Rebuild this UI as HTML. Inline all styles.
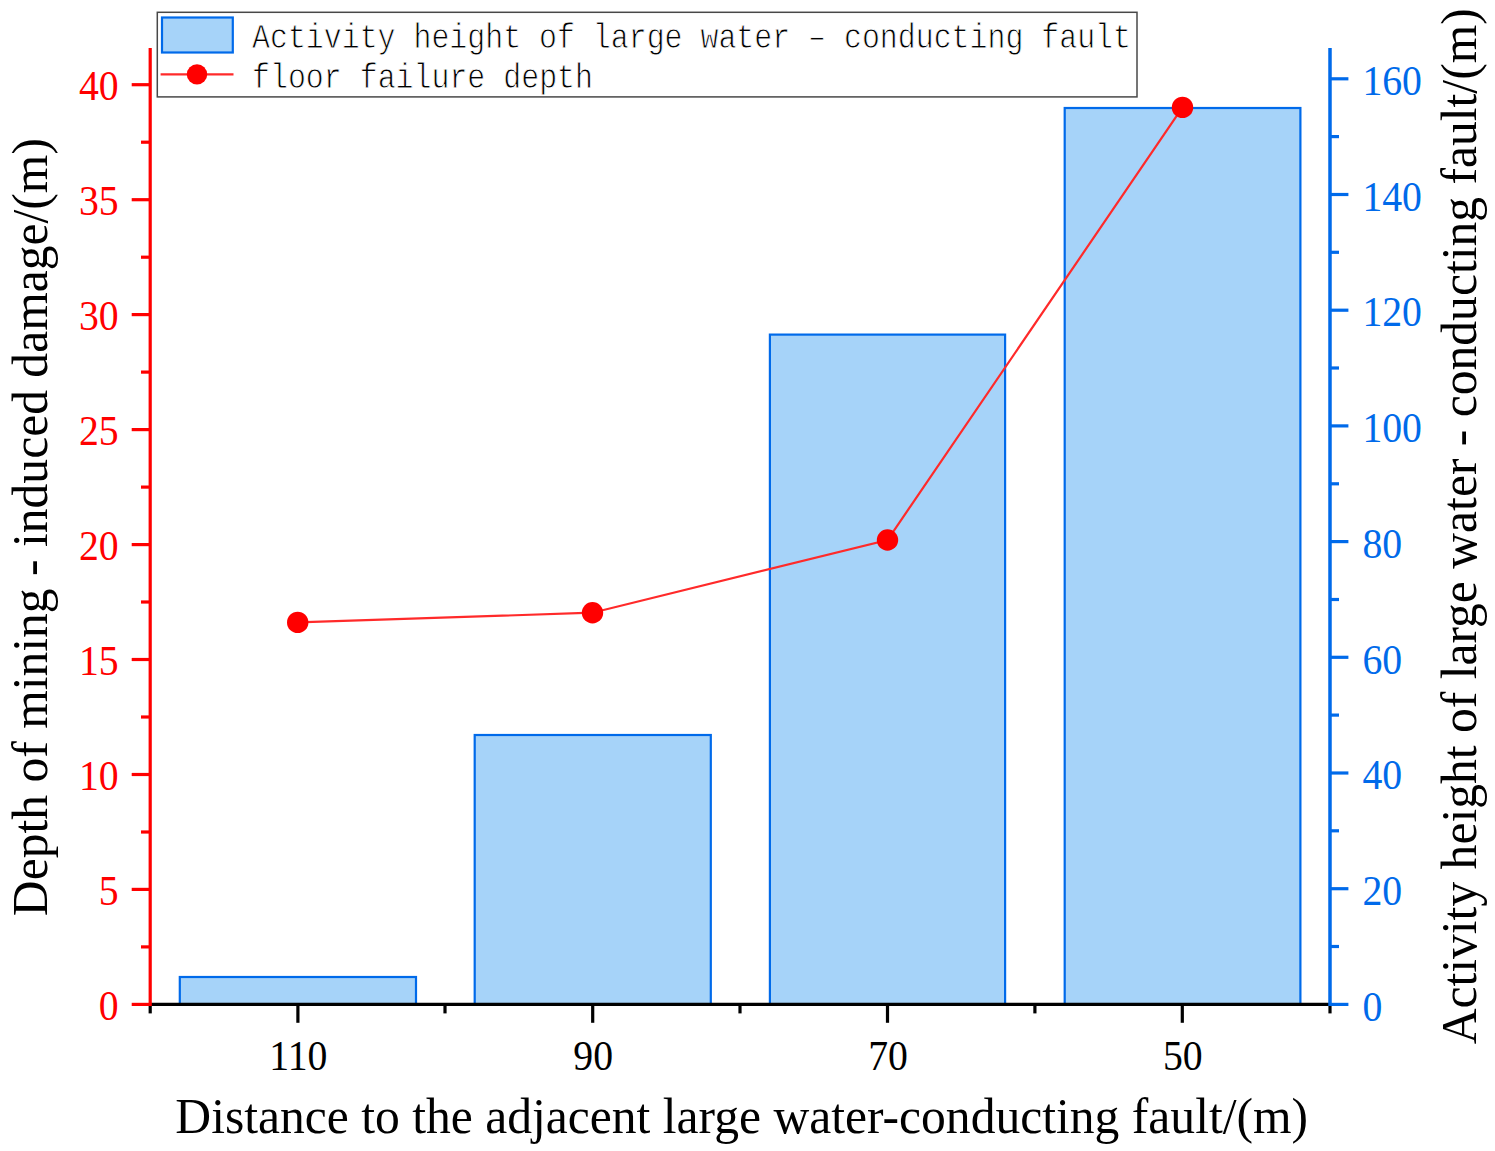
<!DOCTYPE html><html><head><meta charset="utf-8"><style>html,body{margin:0;padding:0;background:#fff;}svg{display:block;}text{font-family:"Liberation Serif",serif;}</style></head><body>
<svg width="1495" height="1151" viewBox="0 0 1495 1151">
<rect width="1495" height="1151" fill="#fff"/>
<rect x="179.8" y="977.0" width="236.2" height="27.4" fill="#a6d3f9" stroke="#006aea" stroke-width="2.2"/>
<rect x="474.7" y="735.0" width="236.1" height="269.4" fill="#a6d3f9" stroke="#006aea" stroke-width="2.2"/>
<rect x="769.9" y="334.6" width="235.2" height="669.8" fill="#a6d3f9" stroke="#006aea" stroke-width="2.2"/>
<rect x="1064.7" y="108.0" width="235.7" height="896.4" fill="#a6d3f9" stroke="#006aea" stroke-width="2.2"/>
<line x1="150.2" y1="1004.4" x2="1330.0" y2="1004.4" stroke="#000" stroke-width="3.2"/>
<line x1="297.9" y1="1004.4" x2="297.9" y2="1022.8" stroke="#000" stroke-width="3.2"/>
<line x1="592.7" y1="1004.4" x2="592.7" y2="1022.8" stroke="#000" stroke-width="3.2"/>
<line x1="887.5" y1="1004.4" x2="887.5" y2="1022.8" stroke="#000" stroke-width="3.2"/>
<line x1="1182.3" y1="1004.4" x2="1182.3" y2="1022.8" stroke="#000" stroke-width="3.2"/>
<line x1="150.2" y1="1004.4" x2="150.2" y2="1013.4" stroke="#000" stroke-width="3.2"/>
<line x1="445.0" y1="1004.4" x2="445.0" y2="1013.4" stroke="#000" stroke-width="3.2"/>
<line x1="740.0" y1="1004.4" x2="740.0" y2="1013.4" stroke="#000" stroke-width="3.2"/>
<line x1="1034.9" y1="1004.4" x2="1034.9" y2="1013.4" stroke="#000" stroke-width="3.2"/>
<line x1="1330.0" y1="1004.4" x2="1330.0" y2="1013.4" stroke="#000" stroke-width="3.2"/>
<text transform="translate(298.4,1069.8) scale(0.935,1)" font-size="42.5" text-anchor="middle" fill="#000">110</text>
<text transform="translate(593.2,1069.8) scale(0.935,1)" font-size="42.5" text-anchor="middle" fill="#000">90</text>
<text transform="translate(888.0,1069.8) scale(0.935,1)" font-size="42.5" text-anchor="middle" fill="#000">70</text>
<text transform="translate(1182.8,1069.8) scale(0.935,1)" font-size="42.5" text-anchor="middle" fill="#000">50</text>
<line x1="150.2" y1="48.0" x2="150.2" y2="1006.0" stroke="#ff0000" stroke-width="3.2"/>
<line x1="131.7" y1="1004.4" x2="150.2" y2="1004.4" stroke="#ff0000" stroke-width="3.2"/>
<text transform="translate(118.6,1019.8) scale(0.935,1)" font-size="42.5" text-anchor="end" fill="#ff0000">0</text>
<line x1="131.7" y1="889.4" x2="150.2" y2="889.4" stroke="#ff0000" stroke-width="3.2"/>
<text transform="translate(118.6,904.8) scale(0.935,1)" font-size="42.5" text-anchor="end" fill="#ff0000">5</text>
<line x1="131.7" y1="774.5" x2="150.2" y2="774.5" stroke="#ff0000" stroke-width="3.2"/>
<text transform="translate(118.6,789.9) scale(0.935,1)" font-size="42.5" text-anchor="end" fill="#ff0000">10</text>
<line x1="131.7" y1="659.5" x2="150.2" y2="659.5" stroke="#ff0000" stroke-width="3.2"/>
<text transform="translate(118.6,674.9) scale(0.935,1)" font-size="42.5" text-anchor="end" fill="#ff0000">15</text>
<line x1="131.7" y1="544.6" x2="150.2" y2="544.6" stroke="#ff0000" stroke-width="3.2"/>
<text transform="translate(118.6,560.0) scale(0.935,1)" font-size="42.5" text-anchor="end" fill="#ff0000">20</text>
<line x1="131.7" y1="429.6" x2="150.2" y2="429.6" stroke="#ff0000" stroke-width="3.2"/>
<text transform="translate(118.6,445.0) scale(0.935,1)" font-size="42.5" text-anchor="end" fill="#ff0000">25</text>
<line x1="131.7" y1="314.6" x2="150.2" y2="314.6" stroke="#ff0000" stroke-width="3.2"/>
<text transform="translate(118.6,330.0) scale(0.935,1)" font-size="42.5" text-anchor="end" fill="#ff0000">30</text>
<line x1="131.7" y1="199.7" x2="150.2" y2="199.7" stroke="#ff0000" stroke-width="3.2"/>
<text transform="translate(118.6,215.1) scale(0.935,1)" font-size="42.5" text-anchor="end" fill="#ff0000">35</text>
<line x1="131.7" y1="84.7" x2="150.2" y2="84.7" stroke="#ff0000" stroke-width="3.2"/>
<text transform="translate(118.6,100.1) scale(0.935,1)" font-size="42.5" text-anchor="end" fill="#ff0000">40</text>
<line x1="141" y1="946.9" x2="150.2" y2="946.9" stroke="#ff0000" stroke-width="3.2"/>
<line x1="141" y1="832.0" x2="150.2" y2="832.0" stroke="#ff0000" stroke-width="3.2"/>
<line x1="141" y1="717.0" x2="150.2" y2="717.0" stroke="#ff0000" stroke-width="3.2"/>
<line x1="141" y1="602.0" x2="150.2" y2="602.0" stroke="#ff0000" stroke-width="3.2"/>
<line x1="141" y1="487.1" x2="150.2" y2="487.1" stroke="#ff0000" stroke-width="3.2"/>
<line x1="141" y1="372.1" x2="150.2" y2="372.1" stroke="#ff0000" stroke-width="3.2"/>
<line x1="141" y1="257.2" x2="150.2" y2="257.2" stroke="#ff0000" stroke-width="3.2"/>
<line x1="141" y1="142.2" x2="150.2" y2="142.2" stroke="#ff0000" stroke-width="3.2"/>
<line x1="1330.0" y1="48.0" x2="1330.0" y2="1006.0" stroke="#006aea" stroke-width="3.5"/>
<line x1="1330.0" y1="1004.4" x2="1348.4" y2="1004.4" stroke="#006aea" stroke-width="3.2"/>
<text transform="translate(1362.4,1020.6) scale(0.935,1)" font-size="42.5" text-anchor="start" fill="#006aea">0</text>
<line x1="1330.0" y1="888.7" x2="1348.4" y2="888.7" stroke="#006aea" stroke-width="3.2"/>
<text transform="translate(1362.4,904.9) scale(0.935,1)" font-size="42.5" text-anchor="start" fill="#006aea">20</text>
<line x1="1330.0" y1="773.0" x2="1348.4" y2="773.0" stroke="#006aea" stroke-width="3.2"/>
<text transform="translate(1362.4,789.2) scale(0.935,1)" font-size="42.5" text-anchor="start" fill="#006aea">40</text>
<line x1="1330.0" y1="657.3" x2="1348.4" y2="657.3" stroke="#006aea" stroke-width="3.2"/>
<text transform="translate(1362.4,673.5) scale(0.935,1)" font-size="42.5" text-anchor="start" fill="#006aea">60</text>
<line x1="1330.0" y1="541.6" x2="1348.4" y2="541.6" stroke="#006aea" stroke-width="3.2"/>
<text transform="translate(1362.4,557.8) scale(0.935,1)" font-size="42.5" text-anchor="start" fill="#006aea">80</text>
<line x1="1330.0" y1="425.9" x2="1348.4" y2="425.9" stroke="#006aea" stroke-width="3.2"/>
<text transform="translate(1362.4,442.1) scale(0.935,1)" font-size="42.5" text-anchor="start" fill="#006aea">100</text>
<line x1="1330.0" y1="310.2" x2="1348.4" y2="310.2" stroke="#006aea" stroke-width="3.2"/>
<text transform="translate(1362.4,326.4) scale(0.935,1)" font-size="42.5" text-anchor="start" fill="#006aea">120</text>
<line x1="1330.0" y1="194.5" x2="1348.4" y2="194.5" stroke="#006aea" stroke-width="3.2"/>
<text transform="translate(1362.4,210.7) scale(0.935,1)" font-size="42.5" text-anchor="start" fill="#006aea">140</text>
<line x1="1330.0" y1="78.8" x2="1348.4" y2="78.8" stroke="#006aea" stroke-width="3.2"/>
<text transform="translate(1362.4,95.0) scale(0.935,1)" font-size="42.5" text-anchor="start" fill="#006aea">160</text>
<line x1="1330.0" y1="946.5" x2="1339" y2="946.5" stroke="#006aea" stroke-width="3.2"/>
<line x1="1330.0" y1="830.8" x2="1339" y2="830.8" stroke="#006aea" stroke-width="3.2"/>
<line x1="1330.0" y1="715.1" x2="1339" y2="715.1" stroke="#006aea" stroke-width="3.2"/>
<line x1="1330.0" y1="599.5" x2="1339" y2="599.5" stroke="#006aea" stroke-width="3.2"/>
<line x1="1330.0" y1="483.8" x2="1339" y2="483.8" stroke="#006aea" stroke-width="3.2"/>
<line x1="1330.0" y1="368.0" x2="1339" y2="368.0" stroke="#006aea" stroke-width="3.2"/>
<line x1="1330.0" y1="252.3" x2="1339" y2="252.3" stroke="#006aea" stroke-width="3.2"/>
<line x1="1330.0" y1="136.6" x2="1339" y2="136.6" stroke="#006aea" stroke-width="3.2"/>
<polyline points="297.7,622.4 592.5,612.7 887.5,540.0 1182.5,107.4" fill="none" stroke="#ff2a2a" stroke-width="2.2"/>
<circle cx="297.7" cy="622.4" r="10.7" fill="#ff0000"/>
<circle cx="592.5" cy="612.7" r="10.7" fill="#ff0000"/>
<circle cx="887.5" cy="540.0" r="10.7" fill="#ff0000"/>
<circle cx="1182.5" cy="107.4" r="10.7" fill="#ff0000"/>
<text x="741.7" y="1133.3" font-size="49.6" text-anchor="middle" fill="#000">Distance to the adjacent large water-conducting fault/(m)</text>
<text transform="translate(47.3,527.1) rotate(-90)" x="0" y="0" font-size="49.6" text-anchor="middle" fill="#000">Depth of mining - induced damage/(m)</text>
<text transform="translate(1476,526.3) rotate(-90)" x="0" y="0" font-size="49.6" text-anchor="middle" fill="#000">Activity height of large water - conducting fault/(m)</text>
<rect x="157.3" y="12.3" width="979.7" height="84.6" fill="#fff" stroke="#484848" stroke-width="1.5"/>
<rect x="162.0" y="17.5" width="70.8" height="35" fill="#a6d3f9" stroke="#006aea" stroke-width="2.2"/>
<line x1="160.6" y1="74.4" x2="233.5" y2="74.4" stroke="#ff2a2a" stroke-width="2.2"/>
<circle cx="197" cy="74.4" r="10.2" fill="#ff0000"/>
<text x="252" y="48.2" font-size="35.7" textLength="879" lengthAdjust="spacingAndGlyphs" style="font-family:'Liberation Mono',monospace" fill="#000" stroke="#fff" stroke-width="0.9">Activity height of large water – conducting fault</text>
<text x="252" y="87.6" font-size="35.7" textLength="341" lengthAdjust="spacingAndGlyphs" style="font-family:'Liberation Mono',monospace" fill="#000" stroke="#fff" stroke-width="0.9">floor failure depth</text>
</svg></body></html>
